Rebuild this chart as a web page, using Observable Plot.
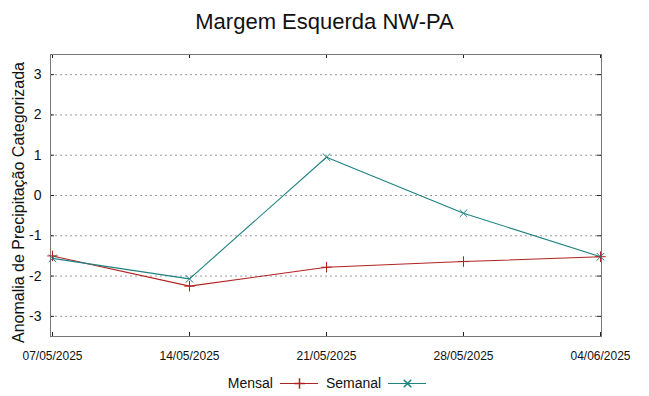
<!DOCTYPE html>
<html>
<head>
<meta charset="utf-8">
<script src="https://cdn.jsdelivr.net/npm/d3@7"></script>
<script src="https://cdn.jsdelivr.net/npm/@observablehq/plot@0.6"></script>
<style>
  html, body { margin: 0; padding: 0; background: #fff; }
  body { width: 649px; height: 396px; overflow: hidden; font-family: "Liberation Sans", Arial, sans-serif; color: #111; }
  #title { height: 40px; line-height: 43px; text-align: center; font-size: 22px; white-space: nowrap; }
  #chart svg { display: block; font-family: "Liberation Sans", Arial, sans-serif; }
  #chart svg [aria-label="y-axis label"] text { font-size: 16px; }
  #legend { height: 26px; display: flex; justify-content: center; align-items: center; font-size: 14px; padding-left: 13px; }
  #legend .item { display: flex; align-items: center; }
  #legend .item span { margin-right: 7px; }
  #legend .item svg { margin-right: 8px; display: block; }
</style>
</head>
<body>
<div id="title"></div>
<div id="chart"></div>
<div id="legend"></div>
<script>
const titleText = "Margem Esquerda NW-PA";
const yLabel = "Anomalia de Precipitação Categorizada";
const dates = ["07/05/2025", "14/05/2025", "21/05/2025", "28/05/2025", "04/06/2025"];
const mensal = [-1.50, -2.25, -1.78, -1.64, -1.52];
const semanal = [-1.56, -2.07, 0.95, -0.44, -1.52];
const yTicks = [-3, -2, -1, 0, 1, 2, 3];
const yDomain = [-3.5, 3.5];
const seriesNames = ["Mensal", "Semanal"];
const seriesColors = ["#b22222", "#1e8282"];
const seriesSymbols = ["plus", "times"];

document.getElementById("title").textContent = titleText;

const rows = [];
dates.forEach((d, i) => rows.push({date: d, value: mensal[i], series: seriesNames[0]}));
dates.forEach((d, i) => rows.push({date: d, value: semanal[i], series: seriesNames[1]}));

const W = 649, H = 330;
const mL = 50, mR = 48, mT = 14, mB = 34;
const innerW = W - mL - mR, innerH = H - mT - mB;
const tickLen = 4;

const chart = Plot.plot({
  width: W,
  height: H,
  marginLeft: mL,
  marginRight: mR,
  marginTop: mT,
  marginBottom: mB,
  x: {type: "point", domain: dates, padding: 0},
  y: {domain: yDomain, ticks: yTicks},
  color: {domain: seriesNames, range: seriesColors},
  symbol: {domain: seriesNames, range: seriesSymbols},
  marks: [
    Plot.ruleY(yTicks, {stroke: "#9a9a9a", strokeDasharray: "2,3", strokeWidth: 1}),
    Plot.tickX(dates, {x: d => d, stroke: "#222", insetTop: innerH - tickLen}),
    Plot.tickX(dates, {x: d => d, stroke: "#222", insetBottom: innerH - tickLen}),
    Plot.tickY(yTicks, {y: d => d, stroke: "#222", insetRight: innerW - tickLen}),
    Plot.tickY(yTicks, {y: d => d, stroke: "#222", insetLeft: innerW - tickLen}),
    Plot.frame({stroke: "#777", strokeWidth: 1}),
    Plot.axisX({tickSize: 0, tickPadding: 15, fontSize: 12, label: null, color: "#111"}),
    Plot.axisY(yTicks, {tickSize: 0, tickPadding: 9, fontSize: 14, tickFormat: d => String(d), label: yLabel, labelAnchor: "center", labelOffset: 38, labelArrow: "none", color: "#111"}),
    Plot.line(rows, {x: "date", y: "value", z: "series", stroke: "series", strokeWidth: 1.1}),
    Plot.dot(rows, {x: "date", y: "value", symbol: "series", stroke: "series", r: 3.5, strokeWidth: 1})
  ]
});
// nudge the y-axis title down a little, as in the reference
const lab = chart.querySelector('g[aria-label="y-axis label"]');
if (lab) {
  const old = lab.getAttribute("transform") || "";
  lab.setAttribute("transform", (old + " translate(0,7)").trim());
}
document.getElementById("chart").appendChild(chart);

// Legend
const legend = document.getElementById("legend");
seriesNames.forEach((name, i) => {
  const item = document.createElement("div");
  item.className = "item";
  const label = document.createElement("span");
  label.textContent = name;
  item.appendChild(label);
  const sw = Plot.plot({
    width: 38, height: 12, margin: 0,
    x: {domain: [0, 2], axis: null},
    y: {domain: [0, 1], axis: null},
    color: {domain: seriesNames, range: seriesColors},
    symbol: {domain: seriesNames, range: seriesSymbols},
    marks: [
      Plot.ruleY([0.5], {stroke: seriesColors[i], strokeWidth: 1.1}),
      Plot.dot([{x: 1, y: 0.5, s: name}], {x: "x", y: "y", symbol: "s", stroke: "s", r: 3.5})
    ]
  });
  item.appendChild(sw);
  legend.appendChild(item);
});
</script>
</body>
</html>
